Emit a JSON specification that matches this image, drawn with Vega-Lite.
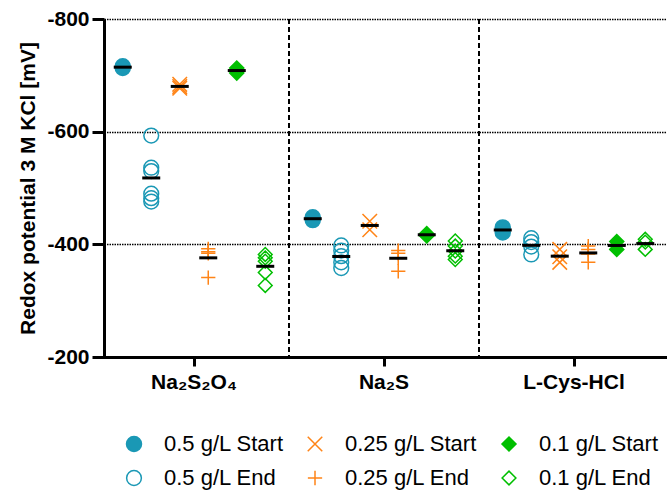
{
  "$schema": "https://vega.github.io/schema/vega-lite/v6.json",
  "width": 570,
  "height": 338,
  "autosize": {"type": "none"},
  "padding": {"left": 99, "top": 19, "right": 0, "bottom": 138},
  "config": {"font": "Liberation Sans", "view": {"stroke": null}},
  "datasets": {
    "points": [
      {"group": "Na₂S₂O₄", "series": "0.5 g/L Start", "value": -716},
      {"group": "Na₂S₂O₄", "series": "0.5 g/L Start", "value": -713},
      {"group": "Na₂S₂O₄", "series": "0.5 g/L End", "value": -593},
      {"group": "Na₂S₂O₄", "series": "0.5 g/L End", "value": -536},
      {"group": "Na₂S₂O₄", "series": "0.5 g/L End", "value": -530},
      {"group": "Na₂S₂O₄", "series": "0.5 g/L End", "value": -490},
      {"group": "Na₂S₂O₄", "series": "0.5 g/L End", "value": -482},
      {"group": "Na₂S₂O₄", "series": "0.5 g/L End", "value": -476},
      {"group": "Na₂S₂O₄", "series": "0.25 g/L Start", "value": -684},
      {"group": "Na₂S₂O₄", "series": "0.25 g/L Start", "value": -680},
      {"group": "Na₂S₂O₄", "series": "0.25 g/L Start", "value": -677},
      {"group": "Na₂S₂O₄", "series": "0.25 g/L End", "value": -392},
      {"group": "Na₂S₂O₄", "series": "0.25 g/L End", "value": -387},
      {"group": "Na₂S₂O₄", "series": "0.25 g/L End", "value": -384},
      {"group": "Na₂S₂O₄", "series": "0.25 g/L End", "value": -341},
      {"group": "Na₂S₂O₄", "series": "0.1 g/L Start", "value": -713},
      {"group": "Na₂S₂O₄", "series": "0.1 g/L Start", "value": -704},
      {"group": "Na₂S₂O₄", "series": "0.1 g/L End", "value": -382},
      {"group": "Na₂S₂O₄", "series": "0.1 g/L End", "value": -376},
      {"group": "Na₂S₂O₄", "series": "0.1 g/L End", "value": -370},
      {"group": "Na₂S₂O₄", "series": "0.1 g/L End", "value": -350},
      {"group": "Na₂S₂O₄", "series": "0.1 g/L End", "value": -327},
      {"group": "Na₂S", "series": "0.5 g/L Start", "value": -448},
      {"group": "Na₂S", "series": "0.5 g/L Start", "value": -443},
      {"group": "Na₂S", "series": "0.5 g/L End", "value": -398},
      {"group": "Na₂S", "series": "0.5 g/L End", "value": -389},
      {"group": "Na₂S", "series": "0.5 g/L End", "value": -379},
      {"group": "Na₂S", "series": "0.5 g/L End", "value": -368},
      {"group": "Na₂S", "series": "0.5 g/L End", "value": -358},
      {"group": "Na₂S", "series": "0.25 g/L Start", "value": -441},
      {"group": "Na₂S", "series": "0.25 g/L Start", "value": -426},
      {"group": "Na₂S", "series": "0.25 g/L End", "value": -389},
      {"group": "Na₂S", "series": "0.25 g/L End", "value": -384},
      {"group": "Na₂S", "series": "0.25 g/L End", "value": -376},
      {"group": "Na₂S", "series": "0.25 g/L End", "value": -352},
      {"group": "Na₂S", "series": "0.1 g/L Start", "value": -419},
      {"group": "Na₂S", "series": "0.1 g/L Start", "value": -415},
      {"group": "Na₂S", "series": "0.1 g/L End", "value": -406},
      {"group": "Na₂S", "series": "0.1 g/L End", "value": -397},
      {"group": "Na₂S", "series": "0.1 g/L End", "value": -388},
      {"group": "Na₂S", "series": "0.1 g/L End", "value": -379},
      {"group": "Na₂S", "series": "0.1 g/L End", "value": -373},
      {"group": "L-Cys-HCl", "series": "0.5 g/L Start", "value": -430},
      {"group": "L-Cys-HCl", "series": "0.5 g/L Start", "value": -421},
      {"group": "L-Cys-HCl", "series": "0.5 g/L End", "value": -411},
      {"group": "L-Cys-HCl", "series": "0.5 g/L End", "value": -404},
      {"group": "L-Cys-HCl", "series": "0.5 g/L End", "value": -396},
      {"group": "L-Cys-HCl", "series": "0.5 g/L End", "value": -382},
      {"group": "L-Cys-HCl", "series": "0.25 g/L Start", "value": -391},
      {"group": "L-Cys-HCl", "series": "0.25 g/L Start", "value": -378},
      {"group": "L-Cys-HCl", "series": "0.25 g/L Start", "value": -368},
      {"group": "L-Cys-HCl", "series": "0.25 g/L End", "value": -397},
      {"group": "L-Cys-HCl", "series": "0.25 g/L End", "value": -391},
      {"group": "L-Cys-HCl", "series": "0.25 g/L End", "value": -383},
      {"group": "L-Cys-HCl", "series": "0.25 g/L End", "value": -368},
      {"group": "L-Cys-HCl", "series": "0.1 g/L Start", "value": -405},
      {"group": "L-Cys-HCl", "series": "0.1 g/L Start", "value": -391},
      {"group": "L-Cys-HCl", "series": "0.1 g/L End", "value": -409},
      {"group": "L-Cys-HCl", "series": "0.1 g/L End", "value": -404},
      {"group": "L-Cys-HCl", "series": "0.1 g/L End", "value": -391}
    ],
    "dividers": [{"group": "Na₂S"}, {"group": "L-Cys-HCl"}]
  },
  "layer": [
    {
      "data": {"name": "dividers"},
      "mark": {"type": "rule", "strokeDash": [5, 3], "strokeWidth": 2, "color": "black"},
      "encoding": {
        "x": {
          "field": "group", "type": "nominal", "bandPosition": 0,
          "scale": {"domain": ["Na₂S₂O₄", "Na₂S", "L-Cys-HCl"], "paddingInner": 0, "paddingOuter": 0},
          "axis": {"title": null, "labelAngle": 0, "labelFontSize": 21, "labelFontWeight": "bold", "labelColor": "black", "domainColor": "black", "domainWidth": 3, "tickColor": "black", "tickWidth": 3, "tickSize": 9, "labelPadding": 5, "grid": false}
        }
      }
    },
    {
      "data": {"name": "points"},
      "mark": {"type": "point", "opacity": 1, "strokeWidth": 1.5},
      "encoding": {
        "x": {
          "field": "group", "type": "nominal",
          "scale": {"domain": ["Na₂S₂O₄", "Na₂S", "L-Cys-HCl"], "paddingInner": 0, "paddingOuter": 0},
          "axis": {"title": null, "labelAngle": 0, "labelFontSize": 21, "labelFontWeight": "bold", "labelColor": "black", "domainColor": "black", "domainWidth": 3, "tickColor": "black", "tickWidth": 3, "tickSize": 9, "labelPadding": 5, "grid": false}
        },
        "xOffset": {
          "field": "series", "type": "nominal",
          "scale": {"domain": ["0.5 g/L Start", "0.5 g/L End", "0.25 g/L Start", "0.25 g/L End", "0.1 g/L Start", "0.1 g/L End"], "paddingInner": 0, "paddingOuter": 0.333}
        },
        "y": {
          "field": "value", "type": "quantitative",
          "scale": {"domain": [-800, -200], "reverse": true, "nice": false, "zero": false},
          "axis": {"title": "Redox potential 3 M KCl [mV]", "values": [-800, -600, -400, -200], "labelExpr": "'-' + abs(datum.value)", "grid": true, "gridDash": [1.5, 1], "gridColor": "black", "gridWidth": 1.4, "domainColor": "black", "domainWidth": 3, "tickColor": "black", "tickWidth": 3, "tickSize": 12, "labelFontSize": 21, "labelFontWeight": "bold", "labelColor": "black", "labelPadding": 3, "titleFontSize": 21, "titleFontWeight": "bold", "titleColor": "black", "titlePadding": 8, "offset": -5}
        },
        "shape": {
          "field": "series", "type": "nominal",
          "scale": {"domain": ["0.5 g/L Start", "0.5 g/L End", "0.25 g/L Start", "0.25 g/L End", "0.1 g/L Start", "0.1 g/L End"], "range": ["circle", "circle", "M-1,-1L1,1M-1,1L1,-1", "M-1,0L1,0M0,-1L0,1", "diamond", "diamond"]},
          "legend": {"title": null, "orient": "none", "legendX": 24, "legendY": 414, "columns": 3, "labelFontSize": 22, "labelColor": "black", "symbolStrokeWidth": 1.5, "labelOffset": 19, "columnPadding": 20, "rowPadding": 12, "symbolOpacity": 1}
        },
        "stroke": {
          "field": "series", "type": "nominal",
          "scale": {"domain": ["0.5 g/L Start", "0.5 g/L End", "0.25 g/L Start", "0.25 g/L End", "0.1 g/L Start", "0.1 g/L End"], "range": ["#1a98b5", "#1a98b5", "#ff8417", "#ff8417", "#00bf00", "#00bf00"]},
          "legend": {"title": null, "orient": "none", "legendX": 24, "legendY": 414, "columns": 3, "labelFontSize": 22, "labelColor": "black", "symbolStrokeWidth": 1.5, "labelOffset": 19, "columnPadding": 20, "rowPadding": 12, "symbolOpacity": 1}
        },
        "fill": {
          "field": "series", "type": "nominal",
          "scale": {"domain": ["0.5 g/L Start", "0.5 g/L End", "0.25 g/L Start", "0.25 g/L End", "0.1 g/L Start", "0.1 g/L End"], "range": ["#1a98b5", "transparent", "transparent", "transparent", "#00bf00", "transparent"]},
          "legend": {"title": null, "orient": "none", "legendX": 24, "legendY": 414, "columns": 3, "labelFontSize": 22, "labelColor": "black", "symbolStrokeWidth": 1.5, "labelOffset": 19, "columnPadding": 20, "rowPadding": 12, "symbolOpacity": 1}
        },
        "size": {
          "field": "series", "type": "nominal",
          "scale": {"domain": ["0.5 g/L Start", "0.5 g/L End", "0.25 g/L Start", "0.25 g/L End", "0.1 g/L Start", "0.1 g/L End"], "range": [225, 190, 210, 230, 290, 250]},
          "legend": {"title": null, "orient": "none", "legendX": 24, "legendY": 414, "columns": 3, "labelFontSize": 22, "labelColor": "black", "symbolStrokeWidth": 1.5, "labelOffset": 19, "columnPadding": 20, "rowPadding": 12, "symbolOpacity": 1}
        }
      }
    },
    {
      "data": {"name": "points"},
      "mark": {"type": "tick", "color": "black", "thickness": 3, "size": 18, "opacity": 1},
      "encoding": {
        "x": {
          "field": "group", "type": "nominal",
          "scale": {"domain": ["Na₂S₂O₄", "Na₂S", "L-Cys-HCl"], "paddingInner": 0, "paddingOuter": 0},
          "axis": {"title": null, "labelAngle": 0, "labelFontSize": 21, "labelFontWeight": "bold", "labelColor": "black", "domainColor": "black", "domainWidth": 3, "tickColor": "black", "tickWidth": 3, "tickSize": 9, "labelPadding": 5, "grid": false}
        },
        "xOffset": {
          "field": "series", "type": "nominal",
          "scale": {"domain": ["0.5 g/L Start", "0.5 g/L End", "0.25 g/L Start", "0.25 g/L End", "0.1 g/L Start", "0.1 g/L End"], "paddingInner": 0, "paddingOuter": 0.333}
        },
        "y": {"aggregate": "mean", "field": "value", "type": "quantitative", "title": "Redox potential 3 M KCl [mV]"}
      }
    }
  ]
}
